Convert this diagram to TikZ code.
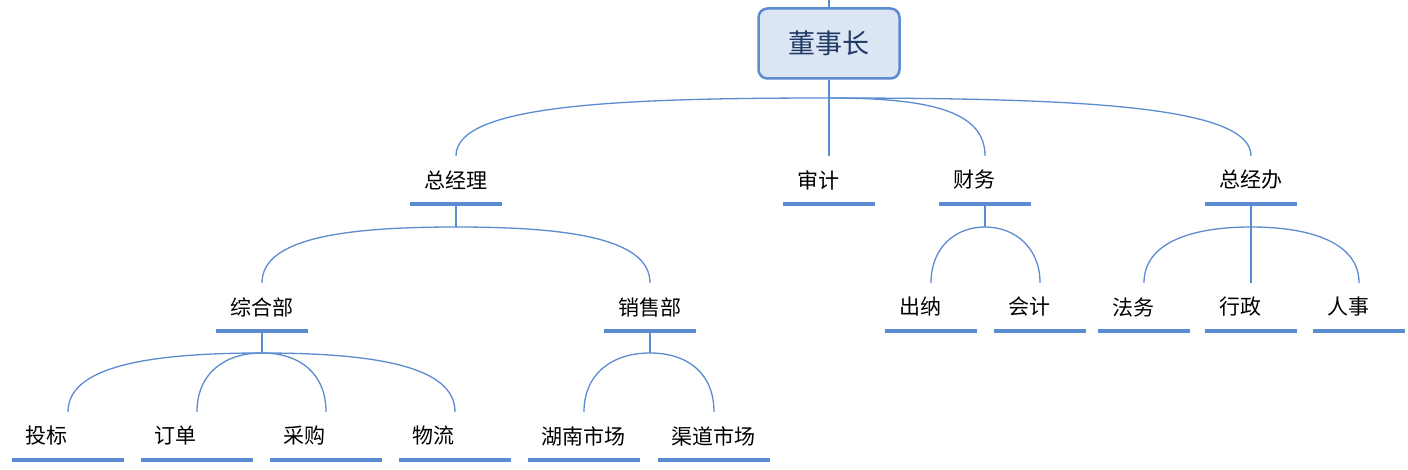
\documentclass[tikz,border=0pt]{standalone}
\usepackage{fontspec}
\newfontfamily\cjk{Noto Sans CJK SC}
\definecolor{linkblue}{HTML}{5B8BD1}
\definecolor{boxfill}{HTML}{DBE5F3}
\definecolor{bossink}{HTML}{1F3864}

\begin{document}
\begin{tikzpicture}[x=1pt,y=1pt]
    \tikzset{poste/.style={font=\cjk\fontsize{21}{25}\selectfont, inner xsep=13.5pt, inner ysep=0pt, minimum height=48pt, text width=64pt, align=left}}
    \tikzset{poste large/.style={poste, text width=85pt}}
    \tikzset{chef/.style={draw=linkblue, line width=2.5pt, fill=boxfill, rounded corners=9pt, minimum width=141pt, minimum height=70pt, text=bossink, font=\cjk\fontsize{27}{31}\selectfont}}
    \tikzset{lien/.style={draw=linkblue, line width=1.3pt}}
    \tikzset{trait/.style={draw=linkblue, line width=4.5pt}}
    \useasboundingbox (0,0) rectangle (1408,469);
    % direction
    \coordinate (haut) at (829,469);
    \node[chef] (ceo) at (829,425.5) {董事长};
    \coordinate (j0) at (829,371);
    % premier niveau
    \node[poste] (gm) at (456,289) {总经理};
    \node[poste] (audit) at (829,289) {审计};
    \node[poste] (finance) at (985,289) {财务};
    \node[poste] (office) at (1251,289) {总经办};
    \coordinate (j1) at (456,242);
    \coordinate (j2) at (985,242);
    \coordinate (j3) at (1251,242);
    % second niveau
    \node[poste] (general) at (262,162) {综合部};
    \node[poste] (sales) at (650,162) {销售部};
    \node[poste] (cashier) at (931,162) {出纳};
    \node[poste] (accounting) at (1040,162) {会计};
    \node[poste] (legal) at (1144,162) {法务};
    \node[poste] (admin) at (1251,162) {行政};
    \node[poste] (hr) at (1359,162) {人事};
    \coordinate (j4) at (262,116);
    \coordinate (j5) at (650,116);
    % troisieme niveau
    \node[poste large] (bid) at (68,33) {投标};
    \node[poste large] (order) at (197,33) {订单};
    \node[poste large] (purchase) at (326,33) {采购};
    \node[poste large] (logistics) at (455,33) {物流};
    \node[poste large] (hunan) at (584,33) {湖南市场};
    \node[poste large] (channel) at (714,33) {渠道市场};
    \foreach \n in {gm,audit,finance,office,general,sales,cashier,accounting,legal,admin,hr,bid,order,purchase,logistics,hunan,channel}
      \draw[trait] (\n.south west) -- (\n.south east);
    % liens
    \draw[lien] (haut) -- (ceo.north);
    \draw[lien] (ceo.south) -- (audit.north);
    \draw[lien] (j0) to[out=180, in=90, out distance=220pt, in distance=50pt] (gm.north);
    \draw[lien] (j0) to[out=0, in=90, out distance=100pt, in distance=45pt] (finance.north);
    \draw[lien] (j0) to[out=0, in=90, out distance=250pt, in distance=50pt] (office.north);
    \draw[lien] (gm.south) -- (j1);
    \draw[lien] (j1) to[out=180, in=90, out distance=110pt, in distance=45pt] (general.north);
    \draw[lien] (j1) to[out=0, in=90, out distance=110pt, in distance=45pt] (sales.north);
    \draw[lien] (finance.south) -- (j2);
    \draw[lien] (j2) to[out=180, in=90, out distance=30pt, in distance=35pt] (cashier.north);
    \draw[lien] (j2) to[out=0, in=90, out distance=30pt, in distance=35pt] (accounting.north);
    \draw[lien] (office.south) -- (admin.north);
    \draw[lien] (j3) to[out=180, in=90, out distance=60pt, in distance=40pt] (legal.north);
    \draw[lien] (j3) to[out=0, in=90, out distance=60pt, in distance=40pt] (hr.north);
    \draw[lien] (general.south) -- (j4);
    \draw[lien] (j4) to[out=180, in=90, out distance=115pt, in distance=45pt] (bid.north);
    \draw[lien] (j4) to[out=180, in=90, out distance=38pt, in distance=38pt] (order.north);
    \draw[lien] (j4) to[out=0, in=90, out distance=38pt, in distance=38pt] (purchase.north);
    \draw[lien] (j4) to[out=0, in=90, out distance=115pt, in distance=45pt] (logistics.north);
    \draw[lien] (sales.south) -- (j5);
    \draw[lien] (j5) to[out=180, in=90, out distance=38pt, in distance=38pt] (hunan.north);
    \draw[lien] (j5) to[out=0, in=90, out distance=38pt, in distance=38pt] (channel.north);
\end{tikzpicture}
\end{document}
